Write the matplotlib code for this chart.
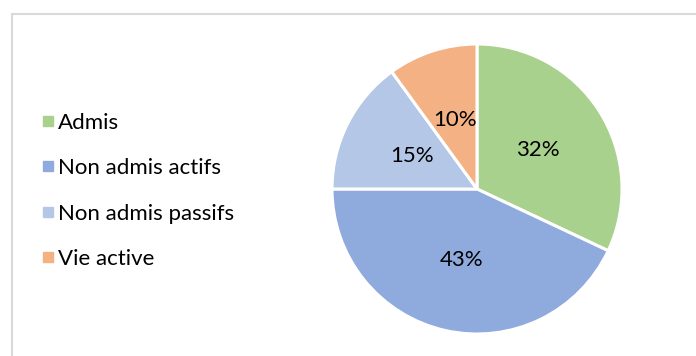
import matplotlib
matplotlib.use("Agg")
import matplotlib.pyplot as plt
from matplotlib.lines import Line2D
from matplotlib.patches import Rectangle

categories = ["Admis", "Non admis actifs", "Non admis passifs", "Vie active"]
shares = [32, 43, 15, 10]
colors = ["#A9D18E", "#8FAADC", "#B4C7E7", "#F4B183"]

plt.rcParams["font.family"] = ["Lato", "DejaVu Sans"]

W, H = 696, 356
fig = plt.figure(figsize=(W / 100, H / 100), dpi=100)
fig.patch.set_facecolor("white")

# outer chart frame (open on the right and bottom edges)
fig.patches.append(Rectangle((12 / W, -0.1), 1.2, (H - 14) / H + 0.1,
                             transform=fig.transFigure, fill=False,
                             edgecolor="#D9D9D9", linewidth=1.5))

# pie axes: centre (477, 189) px, radius 145 px
cx, cy, r = 477, 189, 145
ax = fig.add_axes([(cx - r) / W, (H - cy - r) / H, 2 * r / W, 2 * r / H])
wedges, texts, autotexts = ax.pie(
    shares, colors=colors, startangle=90, counterclock=False,
    autopct="%1.0f%%", pctdistance=0.5,
    wedgeprops=dict(edgecolor="white", linewidth=2.2),
    textprops=dict(fontsize=16, color="#000000"))
ax.set_xlim(-1, 1)
ax.set_ylim(-1, 1)
ax.set_aspect("equal")

handles = [Line2D([], [], linestyle="none", marker="s", markersize=6.5,
                  markerfacecolor=c, markeredgecolor=c) for c in colors]
fig.legend(handles, categories, loc="upper left",
           bbox_to_anchor=(32 / W, 1 - 104 / H), frameon=False,
           fontsize=16, handlelength=0.6, handletextpad=0.15,
           labelspacing=1.14, borderaxespad=0)

fig.savefig("out.png", dpi=100, facecolor="white")
